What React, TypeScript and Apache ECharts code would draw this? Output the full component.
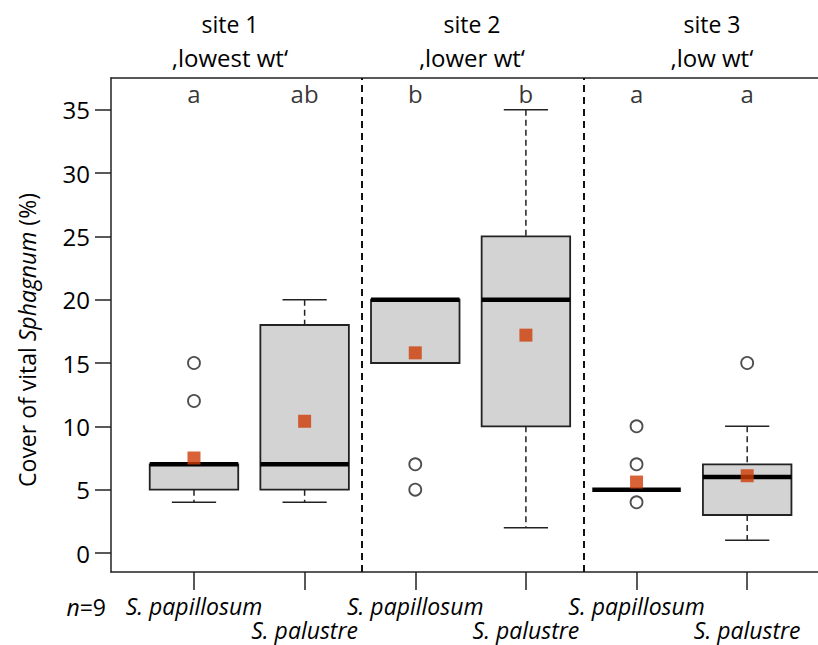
import React, { useEffect, useRef } from "react";
import * as echarts from "echarts";

const categories = ["S. papillosum", "S. palustre", "S. papillosum", "S. palustre", "S. papillosum", "S. palustre"];
const positions = [1, 2, 3, 4, 5, 6];
const upperRowPositions = [1, 3, 5];
const lowerRowPositions = [2, 4, 6];
// [min, q1, median, q3, max]
const boxStats = [
  [4, 5, 7, 7, 7],
  [4, 5, 7, 18, 20],
  [15, 15, 20, 20, 20],
  [2, 10, 20, 25, 35],
  [5, 5, 5, 5, 5],
  [1, 3, 6, 7, 10],
];
const means = [7.5, 10.4, 15.8, 17.2, 5.6, 6.1];
const outlierX = [1, 1, 3, 3, 5, 5, 5, 6];
const outlierY = [15, 12, 7, 5, 10, 7, 4, 15];
const letters = ["a", "ab", "b", "b", "a", "a"];
const siteNames = ["site 1", "site 2", "site 3"];
const siteWt = ["\u201Alowest wt\u2018", "\u201Alower wt\u2018", "\u201Alow wt\u2018"];
const siteSeparators = [2.52, 4.52];
const yTicks = [0, 5, 10, 15, 20, 25, 30, 35];

const FONT = "'Open Sans', 'Noto Sans', sans-serif";
const TXT = "#000";

export default function App() {
  const ref = useRef<HTMLDivElement>(null);
  useEffect(() => {
    if (!ref.current) return;
    const chart = echarts.init(ref.current, null, { renderer: "svg" });
    const boxData = positions.map((p, i) => [p, ...boxStats[i]]);
    const siteX = [230, 472, 712];
    const labelFmt = (v: number) => categories[Math.round(v) - 1] ?? "";
    const xLabelBase = {
      fontFamily: FONT,
      fontStyle: "italic",
      fontSize: 23,
      color: TXT,
      hideOverlap: false,
      showMinLabel: true,
      showMaxLabel: true,
      formatter: labelFmt,
    };
    const option: any = {
      animation: false,
      grid: { left: 111, top: 78, right: 0, bottom: 73 },
      xAxis: [
        {
          type: "value",
          min: 0.25,
          max: 6.64,
          splitLine: { show: false },
          axisLine: { show: true, onZero: false, lineStyle: { color: "#222", width: 1.5 } },
          axisTick: { show: true, customValues: positions, length: 18, lineStyle: { color: "#222", width: 1.5 } },
          axisLabel: { ...xLabelBase, customValues: upperRowPositions, margin: 22 },
        },
        {
          type: "value",
          position: "top",
          min: 0.25,
          max: 6.64,
          splitLine: { show: false },
          axisLine: { show: true, onZero: false, lineStyle: { color: "#222", width: 1.5 } },
          axisTick: { show: false },
          axisLabel: { show: false },
        },
        {
          type: "value",
          position: "bottom",
          offset: 0,
          min: 0.25,
          max: 6.64,
          splitLine: { show: false },
          axisLine: { show: false },
          axisTick: { show: false },
          axisLabel: { ...xLabelBase, customValues: lowerRowPositions, margin: 46 },
        },
      ],
      yAxis: {
        type: "value",
        min: -1.5,
        max: 37.5,
        splitLine: { show: false },
        axisLine: { show: true, onZero: false, lineStyle: { color: "#222", width: 1.5 } },
        axisTick: { show: true, customValues: yTicks, length: 16, lineStyle: { color: "#222", width: 1.5 } },
        axisLabel: { customValues: yTicks, margin: 21, fontFamily: FONT, fontSize: 24, color: TXT },
      },
      graphic: [
        ...siteNames.map((s, i) => ({
          type: "text",
          x: siteX[i],
          y: 24,
          style: { text: s, fontFamily: FONT, fontSize: 23, fill: TXT, align: "center", verticalAlign: "middle" },
        })),
        ...siteWt.map((s, i) => ({
          type: "text",
          x: siteX[i],
          y: 57,
          style: { text: s, fontFamily: FONT, fontSize: 24, fill: TXT, align: "center", verticalAlign: "middle" },
        })),
        {
          type: "text",
          x: 106,
          y: 607,
          style: {
            text: "{i|n}{n|=9}",
            align: "right",
            verticalAlign: "middle",
            rich: {
              i: { fontFamily: FONT, fontStyle: "italic", fontSize: 23, fill: TXT },
              n: { fontFamily: FONT, fontSize: 23, fill: TXT },
            },
          },
        },
        {
          type: "text",
          x: 27,
          y: 340,
          rotation: Math.PI / 2,
          style: {
            text: "{n|Cover of vital }{i|Sphagnum}{n| (%)}",
            align: "center",
            verticalAlign: "middle",
            rich: {
              n: { fontFamily: FONT, fontSize: 23, fill: TXT },
              i: { fontFamily: FONT, fontStyle: "italic", fontSize: 23, fill: TXT },
            },
          },
        },
      ],
      series: [
        {
          type: "custom",
          xAxisIndex: 0,
          data: boxData,
          renderItem: (params: any, api: any) => {
            const x = api.value(0);
            const mn = api.value(1), q1 = api.value(2), md = api.value(3), q3 = api.value(4), mx = api.value(5);
            const w = api.size([0.8, 0])[0];
            const cw = api.size([0.4, 0])[0];
            const c = api.coord([x, md]);
            const px = c[0];
            const y = (v: number) => api.coord([x, v])[1];
            const children: any[] = [];
            const dash = { stroke: "#222", lineWidth: 1.5, lineDash: [6, 4] };
            const solid = { stroke: "#222", lineWidth: 1.5 };
            if (mx > q3) {
              children.push({ type: "line", shape: { x1: px, y1: y(mx), x2: px, y2: y(q3) }, style: dash });
              children.push({ type: "line", shape: { x1: px - cw / 2, y1: y(mx), x2: px + cw / 2, y2: y(mx) }, style: solid });
            }
            if (mn < q1) {
              children.push({ type: "line", shape: { x1: px, y1: y(q1), x2: px, y2: y(mn) }, style: dash });
              children.push({ type: "line", shape: { x1: px - cw / 2, y1: y(mn), x2: px + cw / 2, y2: y(mn) }, style: solid });
            }
            if (q3 > q1) {
              children.push({
                type: "rect",
                shape: { x: px - w / 2, y: y(q3), width: w, height: y(q1) - y(q3) },
                style: { fill: "#d3d3d3", stroke: "#222", lineWidth: 1.8 },
              });
            }
            children.push({
              type: "line",
              shape: { x1: px - w / 2, y1: y(md), x2: px + w / 2, y2: y(md) },
              style: { stroke: "#000", lineWidth: 4.5 },
            });
            return { type: "group", children };
          },
          markLine: {
            silent: true,
            symbol: "none",
            label: { show: false },
            lineStyle: { color: "#111", type: [7, 5], width: 2 },
            data: siteSeparators.map((v) => ({ xAxis: v })),
          },
          z: 2,
        },
        {
          type: "scatter",
          data: outlierX.map((x, i) => [x, outlierY[i]]),
          symbol: "circle",
          symbolSize: 12,
          itemStyle: { color: "#fff", borderColor: "#222", borderWidth: 1.8 },
          z: 3,
        },
        {
          type: "scatter",
          data: positions.map((x, i) => [x, means[i]]),
          symbol: "rect",
          symbolSize: 13,
          itemStyle: { color: "#d03c06" },
          z: 4,
        },
        {
          type: "scatter",
          data: positions.map((x) => [x, 36.3]),
          symbolSize: 0,
          label: {
            show: true,
            position: "inside",
            formatter: (p: any) => letters[p.dataIndex],
            fontFamily: FONT,
            fontSize: 24,
            color: TXT,
          },
          z: 5,
        },
      ],
    };
    chart.setOption(option);
    return () => chart.dispose();
  }, []);
  return <div ref={ref} style={{ position: "absolute", left: 0, top: 0, width: 818, height: 645, background: "#fff" }} />;
}
